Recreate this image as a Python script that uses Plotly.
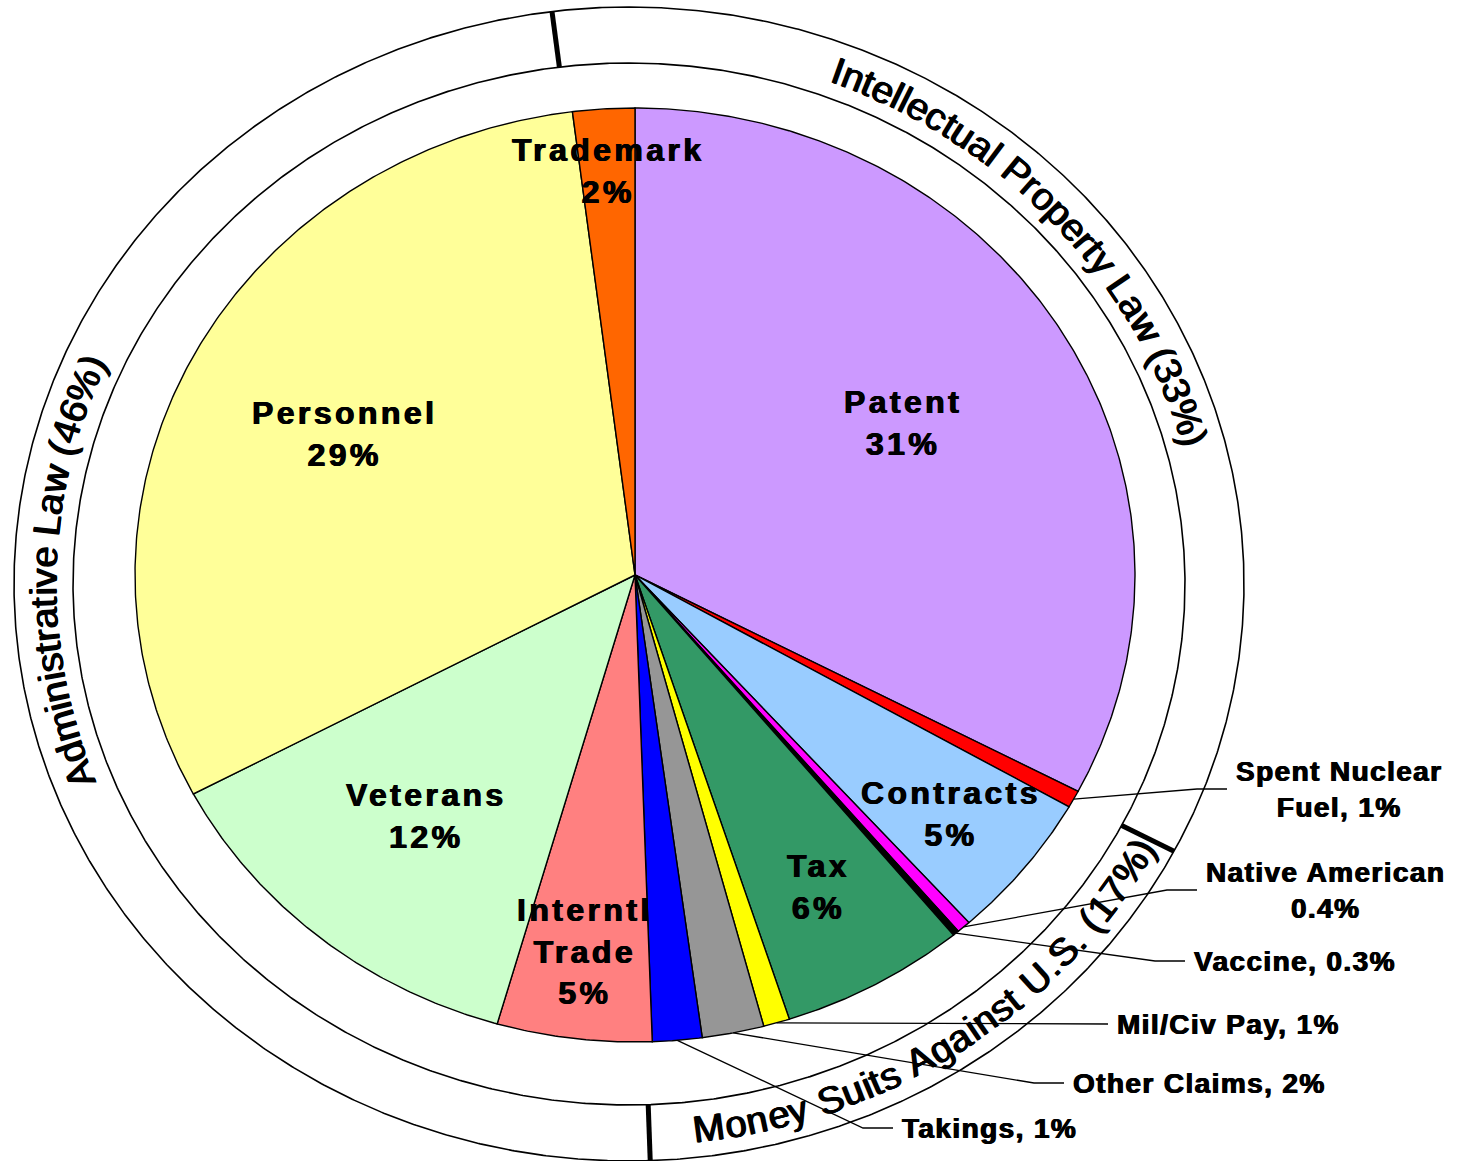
import math
import numpy as np
import plotly.graph_objects as go

# ---------------- data ----------------
categories = ["Patent", "Spent Nuclear Fuel", "Contracts", "Native American", "Vaccine",
              "Tax", "Mil/Civ Pay", "Other Claims", "Takings", "Interntl Trade",
              "Veterans", "Personnel", "Trademark"]
# estimated slice sizes (share of the full pie, %)
shares = [32.7, 0.6, 5.1, 0.45, 0.2, 6.0, 0.85, 2.0, 1.6, 5.0, 12.8, 30.8, 2.0]
# percentages printed on the chart
pct_labels = ["31%", "1%", "5%", "0.4%", "0.3%", "6%", "1%", "2%", "1%", "5%",
              "12%", "29%", "2%"]
label_names = ["Patent", "Spent Nuclear\nFuel", "Contracts", "Native American", "Vaccine",
               "Tax", "Mil/Civ Pay", "Other Claims", "Takings", "Interntl\nTrade",
               "Veterans", "Personnel", "Trademark"]
label_seps = ["\n", ", ", "\n", "\n", ", ", "\n", ", ", ", ", ", ", "\n", "\n", "\n", "\n"]
groups = ["IP", "MS", "MS", "MS", "MS", "MS", "MS", "MS", "MS", "AL", "AL", "AL", "IP"]
group_labels = {"IP": "Intellectual Property Law (33%)",
                "MS": "Money Suits Against U.S. (17%)",
                "AL": "Administrative Law (46%)"}

# ---------------- styles / layout ----------------
colors = ["#CC99FF", "#FF0000", "#99CCFF", "#FF00FF", "#000000", "#339966", "#FFFF00",
          "#969696", "#0000FF", "#FF8080", "#CCFFCC", "#FFFF99", "#FF6600"]

W, H = 1460, 1161
CX, CY, RX, RY = 635.0, 575.0, 500.0, 467.0          # pie ellipse
RCX, RCY = 629.0, 584.0                                # ring ellipses centre
RING_IN = (556.0, 521.0)
RING_OUT = (615.0, 577.0)
RING_MID = ((RING_IN[0] + RING_OUT[0]) / 2, (RING_IN[1] + RING_OUT[1]) / 2)
FONT = "Liberation Sans, Arial, Helvetica, sans-serif"
BOLD_SHADOW = "0.6px 0 0 #000, -0.6px 0 0 #000"
RING_SHADOW = "0.8px 0 0 #000, -0.8px 0 0 #000"

inside_radius = {"Patent": 0.627, "Contracts": 0.813, "Tax": 0.762, "Interntl Trade": 0.813,
                 "Veterans": 0.663, "Personnel": 0.655, "Trademark": 0.867}
leader_anchor = {"Spent Nuclear Fuel": (1234, 789), "Native American": (1204, 890),
                 "Vaccine": (1192, 961), "Mil/Civ Pay": (1115, 1024),
                 "Other Claims": (1071, 1083), "Takings": (900, 1128)}
ring_label_angle = {"IP": 47.5, "MS": 146.2, "AL": 271.4}
ring_label_reverse = {"IP": False, "MS": True, "AL": False}

# Arial / Liberation Sans regular advance widths (per 1000 em)
CHAR_W = {' ': 278, '(': 333, ')': 333, '%': 889, '.': 278, '1': 556, '3': 556, '4': 556,
          '6': 556, '7': 556, 'A': 667, 'I': 278, 'L': 556, 'M': 833, 'P': 667, 'S': 667,
          'U': 722, 'a': 556, 'c': 500, 'd': 556, 'e': 556, 'g': 556, 'i': 222, 'l': 222,
          'm': 833, 'n': 556, 'o': 556, 'p': 556, 'r': 333, 's': 500, 't': 278, 'u': 556,
          'v': 500, 'w': 722, 'y': 500}

total = float(sum(shares))
angles = np.concatenate([[0.0], np.cumsum([v / total * 360.0 for v in shares])])


def pie_pt(deg, frac=1.0):
    t = math.radians(deg)
    return CX + frac * RX * math.sin(t), CY - frac * RY * math.cos(t)


def ring_pt(deg, ab):
    t = math.radians(deg)
    return RCX + ab[0] * math.sin(t), RCY - ab[1] * math.cos(t)


def spaced(text, spacing):
    return "<br>".join(f'<span style="letter-spacing:{spacing}px">{ln}</span>'
                       for ln in text.split("\n"))


fig = go.Figure()

# rings
tt = np.radians(np.linspace(0, 360, 1441))
for ab in (RING_IN, RING_OUT):
    fig.add_trace(go.Scatter(x=RCX + ab[0] * np.sin(tt), y=RCY - ab[1] * np.cos(tt),
                             mode="lines", line=dict(color="black", width=1.6),
                             hoverinfo="skip"))

# slices
for i, cat in enumerate(categories):
    a0, a1 = angles[i], angles[i + 1]
    n = max(3, int(math.ceil((a1 - a0) / 0.4)) + 1)
    pts = [pie_pt(t) for t in np.linspace(a0, a1, n)]
    xs = [CX] + [p[0] for p in pts] + [CX]
    ys = [CY] + [p[1] for p in pts] + [CY]
    fig.add_trace(go.Scatter(x=xs, y=ys, mode="lines", fill="toself", fillcolor=colors[i],
                             line=dict(color="black", width=1.4), name=cat,
                             hoverinfo="skip"))

# group boundary ticks on the ring
ncat = len(categories)
for i in range(ncat):
    j = (i + 1) % ncat
    if groups[i] != groups[j]:
        deg = angles[i + 1] % 360
        p0 = ring_pt(deg, RING_IN)
        p1 = ring_pt(deg, RING_OUT)
        fig.add_trace(go.Scatter(x=[p0[0], p1[0]], y=[p0[1], p1[1]], mode="lines",
                                 line=dict(color="black", width=5), hoverinfo="skip"))

annotations = []

# slice labels and leader lines
for i, cat in enumerate(categories):
    text = label_names[i] + label_seps[i] + pct_labels[i]
    mid = (angles[i] + angles[i + 1]) / 2
    if cat in inside_radius:
        x, y = pie_pt(mid, inside_radius[cat])
        annotations.append(dict(x=x, y=y, xref="x", yref="y", showarrow=False,
                                text=spaced(text, 3.4), xanchor="center", yanchor="middle",
                                align="center",
                                font=dict(family=FONT, size=32, color="black", weight=700,
                                          shadow=BOLD_SHADOW)))
    else:
        lx, ly = leader_anchor[cat]
        sx, sy = pie_pt(mid)
        fig.add_trace(go.Scatter(x=[sx, lx - 37, lx - 7], y=[sy, ly, ly], mode="lines",
                                 line=dict(color="black", width=1.3), hoverinfo="skip"))
        annotations.append(dict(x=lx, y=ly, xref="x", yref="y", showarrow=False,
                                text=spaced(text, 1.4), xanchor="left", yanchor="middle",
                                align="center",
                                font=dict(family=FONT, size=28, color="black", weight=700,
                                          shadow=BOLD_SHADOW)))

# curved group labels along the ring
th = np.radians(np.linspace(-60, 420, 48001))
px = RCX + RING_MID[0] * np.sin(th)
py = RCY - RING_MID[1] * np.cos(th)
arc = np.concatenate([[0.0], np.cumsum(np.hypot(np.diff(px), np.diff(py)))])
RING_FONT = 38
RING_SP = 0.5
for g, label in group_labels.items():
    sc = np.interp(math.radians(ring_label_angle[g]), th, arc)
    widths = [CHAR_W.get(ch, 556) * RING_FONT / 1000.0 for ch in label]
    L = sum(widths) + RING_SP * (len(label) - 1)
    pos = -L / 2
    rev = ring_label_reverse[g]
    for ch, w in zip(label, widths):
        m = pos + w / 2
        pos += w + RING_SP
        s_ch = sc - m if rev else sc + m
        t = float(np.interp(s_ch, arc, th))
        x = RCX + RING_MID[0] * math.sin(t)
        y = RCY - RING_MID[1] * math.cos(t)
        dx, dy = RING_MID[0] * math.cos(t), RING_MID[1] * math.sin(t)
        if rev:
            dx, dy = -dx, -dy
        ang = math.degrees(math.atan2(dy, dx))
        if ch == " ":
            continue
        annotations.append(dict(x=x, y=y, xref="x", yref="y", showarrow=False, text=ch,
                                textangle=ang, xanchor="center", yanchor="middle",
                                font=dict(family=FONT, size=RING_FONT, color="black",
                                          shadow=RING_SHADOW)))

fig.update_layout(
    width=W, height=H,
    margin=dict(l=0, r=0, t=0, b=0, pad=0),
    paper_bgcolor="white", plot_bgcolor="white",
    showlegend=False,
    xaxis=dict(range=[0, W], visible=False, fixedrange=True),
    yaxis=dict(range=[H, 0], visible=False, fixedrange=True),
    annotations=annotations,
    font=dict(family=FONT),
)

fig.write_html("out.html", config={"displayModeBar": False},
               post_script="document.body.style.margin='0';")
